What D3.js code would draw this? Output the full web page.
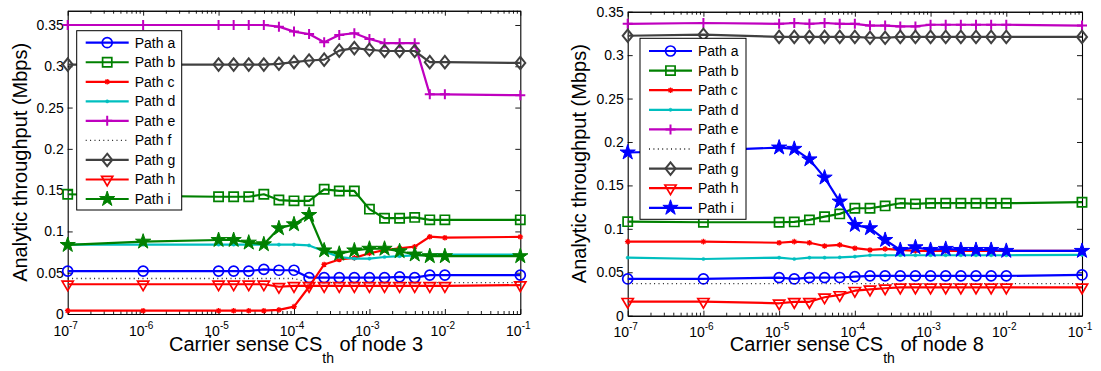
<!DOCTYPE html>
<html><head><meta charset="utf-8">
<script src="https://cdn.jsdelivr.net/npm/d3@7"></script>
<style>
body{margin:0;background:#fff}
svg{display:block}
text{font-family:"Liberation Sans",Arial,Helvetica,sans-serif;fill:#000}
</style>
</head><body>
<svg id="chart" width="1101" height="371"></svg>
<script>
// ---------- DATA ----------
const xValues = [1e-7, 1e-6, 1e-5, 1.585e-5, 2.512e-5, 3.981e-5, 6.310e-5, 1e-4, 1.585e-4, 2.512e-4,
                 3.981e-4, 6.310e-4, 1e-3, 1.585e-3, 2.512e-3, 3.981e-3, 6.310e-3, 1e-2, 1e-1];
const xMajorTicks = [1e-7, 1e-6, 1e-5, 1e-4, 1e-3, 1e-2, 1e-1];
const xTickExponents = ["-7", "-6", "-5", "-4", "-3", "-2", "-1"];
const yTickValues = [0, 0.05, 0.1, 0.15, 0.2, 0.25, 0.3, 0.35];
const yTickLabels = ["0", "0.05", "0.1", "0.15", "0.2", "0.25", "0.3", "0.35"];
const seriesNames = ["Path a", "Path b", "Path c", "Path d", "Path e", "Path f", "Path g", "Path h", "Path i"];

// node 3 (left chart)
const node3_a = [0.052, 0.052, 0.052, 0.052, 0.052, 0.054, 0.053, 0.053, 0.044, 0.044, 0.044, 0.044, 0.044, 0.044, 0.045, 0.044, 0.047, 0.047, 0.047];
const node3_b = [0.145, 0.143, 0.142, 0.142, 0.142, 0.145, 0.138, 0.137, 0.137, 0.151, 0.149, 0.149, 0.127, 0.116, 0.116, 0.117, 0.114, 0.114, 0.114];
const node3_c = [0.004, 0.004, 0.004, 0.004, 0.004, 0.004, 0.005, 0.009, 0.033, 0.060, 0.066, 0.068, 0.0735, 0.0775, 0.0796, 0.0815, 0.0936, 0.0924, 0.0934];
const node3_d = [0.084, 0.084, 0.084, 0.084, 0.084, 0.084, 0.084, 0.084, 0.083, 0.076, 0.069, 0.067, 0.067, 0.069, 0.070, 0.071, 0.072, 0.072, 0.072];
const node3_e = [0.35, 0.35, 0.35, 0.35, 0.35, 0.35, 0.348, 0.342, 0.339, 0.329, 0.338, 0.340, 0.333, 0.328, 0.328, 0.328, 0.266, 0.266, 0.265];
const node3_f = [0.043, 0.043, 0.043, 0.043, 0.043, 0.043, 0.043, 0.043, 0.038, 0.038, 0.038, 0.038, 0.038, 0.038, 0.038, 0.038, 0.038, 0.038, 0.038];
const node3_g = [0.302, 0.302, 0.302, 0.302, 0.302, 0.302, 0.303, 0.305, 0.307, 0.308, 0.319, 0.322, 0.320, 0.3185, 0.3185, 0.3185, 0.305, 0.305, 0.304];
const node3_h = [0.036, 0.036, 0.036, 0.036, 0.036, 0.036, 0.033, 0.034, 0.034, 0.034, 0.034, 0.034, 0.034, 0.034, 0.034, 0.034, 0.034, 0.034, 0.035];
const node3_i = [0.0836, 0.0876, 0.0896, 0.0896, 0.0864, 0.0844, 0.1038, 0.1086, 0.1199, 0.077, 0.073, 0.077, 0.079, 0.079, 0.076, 0.072, 0.070, 0.070, 0.070];

// node 8 (right chart)
const node8_a = [0.0423, 0.0423, 0.0438, 0.0423, 0.0438, 0.0438, 0.044, 0.045, 0.0458, 0.0458, 0.0458, 0.0458, 0.0458, 0.0458, 0.0458, 0.0458, 0.0458, 0.0458, 0.0469];
const node8_b = [0.1083, 0.1076, 0.1076, 0.108, 0.1103, 0.114, 0.1172, 0.1237, 0.1237, 0.1264, 0.1295, 0.1287, 0.1295, 0.1295, 0.1295, 0.1295, 0.1295, 0.1295, 0.1307];
const node8_c = [0.0853, 0.0853, 0.084, 0.0853, 0.084, 0.0803, 0.0815, 0.0777, 0.0757, 0.0769, 0.0757, 0.0746, 0.0746, 0.0746, 0.0746, 0.0746, 0.0746, 0.0746, 0.0746];
const node8_d = [0.0668, 0.0653, 0.0668, 0.0653, 0.0668, 0.0668, 0.0672, 0.068, 0.0696, 0.0696, 0.0696, 0.0696, 0.0696, 0.0696, 0.0696, 0.0696, 0.0696, 0.0696, 0.070];
const node8_e = [0.336, 0.337, 0.336, 0.337, 0.336, 0.337, 0.336, 0.336, 0.334, 0.334, 0.333, 0.333, 0.335, 0.335, 0.335, 0.335, 0.335, 0.335, 0.334];
const node8_f = [0.037, 0.037, 0.037, 0.037, 0.037, 0.037, 0.037, 0.037, 0.037, 0.037, 0.037, 0.037, 0.037, 0.037, 0.037, 0.037, 0.037, 0.037, 0.037];
const node8_g = [0.3223, 0.3235, 0.321, 0.321, 0.321, 0.321, 0.321, 0.321, 0.320, 0.320, 0.321, 0.321, 0.321, 0.321, 0.321, 0.321, 0.321, 0.321, 0.321];
const node8_h = [0.0161, 0.0161, 0.0143, 0.016, 0.016, 0.0212, 0.0239, 0.0288, 0.0304, 0.0316, 0.0327, 0.0327, 0.0327, 0.0327, 0.0327, 0.0327, 0.0327, 0.0327, 0.0327];
const node8_i = [0.1879, 0.19, 0.1936, 0.1921, 0.180, 0.159, 0.1314, 0.1045, 0.1007, 0.0872, 0.0757, 0.0788, 0.0757, 0.0769, 0.0757, 0.0757, 0.0757, 0.0746, 0.0746];

// ---------- STYLES ----------
const GREEN = "#008000", BLUE = "#0000ff", RED = "#ff0000", CYAN = "#00bfbf", MAG = "#bf00bf", GRAY = "#404040";
const FONT = "'Liberation Sans',Arial,Helvetica,sans-serif";
const symbolPaths = {
  circle: (r=5) => `M${r},0A${r},${r} 0 1,1 ${-r},0A${r},${r} 0 1,1 ${r},0Z`,
  square: (h=4.6) => `M${-h},${-h}H${h}V${h}H${-h}Z`,
  asterisk: (a=2.8) => { const d=a*0.7071; return `M${-a},0H${a}M0,${-a}V${a}M${-d},${-d}L${d},${d}M${-d},${d}L${d},${-d}`; },
  dot: (r=1.6) => `M${r},0A${r},${r} 0 1,1 ${-r},0A${r},${r} 0 1,1 ${r},0Z`,
  plus: (a=5) => `M${-a},0H${a}M0,${-a}V${a}`,
  diamond: (w=5, h=6.2) => `M0,${-h}L${w},0L0,${h}L${-w},0Z`,
  triDown: (w=5.6, h=9.6) => `M${-w},${-h/3}H${w}L0,${2*h/3}Z`,
  star: (R=8) => { const r=R*0.382; let p=""; for(let k=0;k<10;k++){const rad=k%2?r:R; const ang=-Math.PI/2+k*Math.PI/5; p+=(k?"L":"M")+(rad*Math.cos(ang)).toFixed(2)+","+(rad*Math.sin(ang)).toFixed(2);} return p+"Z"; },
  none: () => ""
};
function styleFor(idx, iColor) {
  return [
    {color: BLUE, sym: "circle", fill: "none", sw: 1.7},
    {color: GREEN, sym: "square", fill: "none", sw: 1.7},
    {color: RED, sym: "asterisk", fill: "none", sw: 1.3},
    {color: CYAN, sym: "dot", fill: CYAN, sw: 0.5},
    {color: MAG, sym: "plus", fill: "none", sw: 2},
    {color: "#222", sym: "none", fill: "none", sw: 1, dash: "1,3.4"},
    {color: GRAY, sym: "diamond", fill: "none", sw: 2},
    {color: RED, sym: "triDown", fill: "none", sw: 1.7},
    {color: iColor, sym: "star", fill: iColor, sw: 1}
  ][idx];
}

const panels = [
  { series: [node3_a,node3_b,node3_c,node3_d,node3_e,node3_f,node3_g,node3_h,node3_i], node: "3", iColor: GREEN,
    x0: 67.7, x1: 520.3, yTop: 10.7, yBot: 314, yMax: 0.3673,
    legend: {x: 76.7, y: 30.7, w: 105, h: 179.3, row0: 12, dy: 19.54}, ylabX: 26.5 },
  { series: [node8_a,node8_b,node8_c,node8_d,node8_e,node8_f,node8_g,node8_h,node8_i], node: "8", iColor: BLUE,
    x0: 627.7, x1: 1082, yTop: 11.7, yBot: 315.7, yMax: 0.35,
    legend: {x: 640, y: 38.3, w: 106, h: 181, row0: 12.7, dy: 19.6}, ylabX: 586 }
];

const svg = d3.select("#chart");

panels.forEach(P => {
  const x = d3.scaleLog().domain([1e-7, 1e-1]).range([P.x0, P.x1]);
  const y = d3.scaleLinear().domain([0, P.yMax]).range([P.yBot, P.yTop]);
  const g = svg.append("g");

  const minorTicks = [];
  for (let e = -7; e < -1; e++) for (let m = 2; m <= 9; m++) minorTicks.push(m * Math.pow(10, e));

  // axes
  const axBottom = g.append("g").attr("transform", `translate(0,${P.yBot})`)
    .call(d3.axisBottom(x).tickValues(xMajorTicks).tickFormat(() => "").tickSizeInner(-5).tickSizeOuter(0));
  axBottom.selectAll(".tick text").remove();
  // custom labels "10^n"
  xMajorTicks.forEach((v, i) => {
    const t = g.append("text").attr("x", x(v) - 2).attr("y", P.yBot + 21.5)
      .attr("text-anchor", "middle").style("font-size", "14px").style("font-family", FONT);
    t.append("tspan").text("10");
    t.append("tspan").style("font-size", "10px").attr("dy", -7).text(xTickExponents[i]);
  });
  g.append("g").attr("transform", `translate(0,${P.yBot})`)
    .call(d3.axisBottom(x).tickValues(minorTicks).tickFormat(() => "").tickSizeInner(-3).tickSizeOuter(0));
  g.append("g").attr("transform", `translate(0,${P.yTop})`)
    .call(d3.axisTop(x).tickValues(xMajorTicks).tickFormat(() => "").tickSizeInner(-5).tickSizeOuter(0));
  g.append("g").attr("transform", `translate(0,${P.yTop})`)
    .call(d3.axisTop(x).tickValues(minorTicks).tickFormat(() => "").tickSizeInner(-3).tickSizeOuter(0));
  g.append("g").attr("transform", `translate(${P.x0},0)`)
    .call(d3.axisLeft(y).tickValues(yTickValues).tickFormat((d, i) => yTickLabels[i]).tickSizeInner(-5).tickSizeOuter(0).tickPadding(4))
    .selectAll("text").style("font-size", "14px").style("font-family", FONT);
  g.append("g").attr("transform", `translate(${P.x1},0)`)
    .call(d3.axisRight(y).tickValues(yTickValues).tickFormat(() => "").tickSizeInner(-5).tickSizeOuter(0));
  g.selectAll(".domain").attr("stroke", "#000").attr("stroke-width", 1.1);
  g.selectAll(".tick line").attr("stroke", "#000").attr("stroke-width", 0.9);

  // axis labels
  g.append("text").attr("transform", `translate(${P.ylabX},${(P.yTop + P.yBot) / 2}) rotate(-90)`)
    .attr("text-anchor", "middle").style("font-size", "20px").text("Analytic throughput (Mbps)");
  const xl = g.append("text").attr("x", (P.x0 + P.x1) / 2 + 2).attr("y", 351)
    .attr("text-anchor", "middle").style("font-size", "20px");
  xl.append("tspan").text("Carrier sense CS");
  xl.append("tspan").style("font-size", "14px").attr("dy", 12).text("th");
  xl.append("tspan").attr("dy", -12).text(" of node " + P.node);

  // series
  const line = d3.line().x((d, i) => x(xValues[i])).y(d => y(d));
  P.series.forEach((vals, si) => {
    const st = styleFor(si, P.iColor);
    const sg = g.append("g");
    sg.append("path").datum(vals).attr("d", line).attr("fill", "none")
      .attr("stroke", st.color).attr("stroke-width", st.dash ? 1.3 : 2.2)
      .attr("stroke-linejoin", "round")
      .attr("stroke-dasharray", st.dash || null);
    if (st.sym !== "none") {
      sg.selectAll("path.mk").data(vals).join("path").attr("class", "mk")
        .attr("transform", (d, i) => `translate(${x(xValues[i])},${y(d)})`)
        .attr("d", symbolPaths[st.sym]())
        .attr("fill", st.fill).attr("stroke", st.color).attr("stroke-width", st.sw)
        .attr("stroke-linejoin", "miter");
    }
  });

  // legend
  const L = P.legend;
  const lg = g.append("g");
  lg.append("rect").attr("x", L.x).attr("y", L.y).attr("width", L.w).attr("height", L.h)
    .attr("fill", "#fff").attr("stroke", "#000").attr("stroke-width", 1);
  seriesNames.forEach((name, si) => {
    const st = styleFor(si, P.iColor);
    const ry = L.y + L.row0 + si * L.dy;
    const lx0 = L.x + 9, lx1 = L.x + 52;
    lg.append("line").attr("x1", lx0).attr("x2", lx1).attr("y1", ry).attr("y2", ry)
      .attr("stroke", st.color).attr("stroke-width", st.dash ? 1.3 : 2.2)
      .attr("stroke-dasharray", st.dash || null);
    if (st.sym !== "none") {
      lg.append("path").attr("transform", `translate(${(lx0 + lx1) / 2},${ry})`)
        .attr("d", symbolPaths[st.sym]()).attr("fill", st.fill)
        .attr("stroke", st.color).attr("stroke-width", st.sw);
    }
    lg.append("text").attr("x", L.x + 58).attr("y", ry + 5).style("font-size", "14px").text(name);
  });
});
</script>
</body></html>
